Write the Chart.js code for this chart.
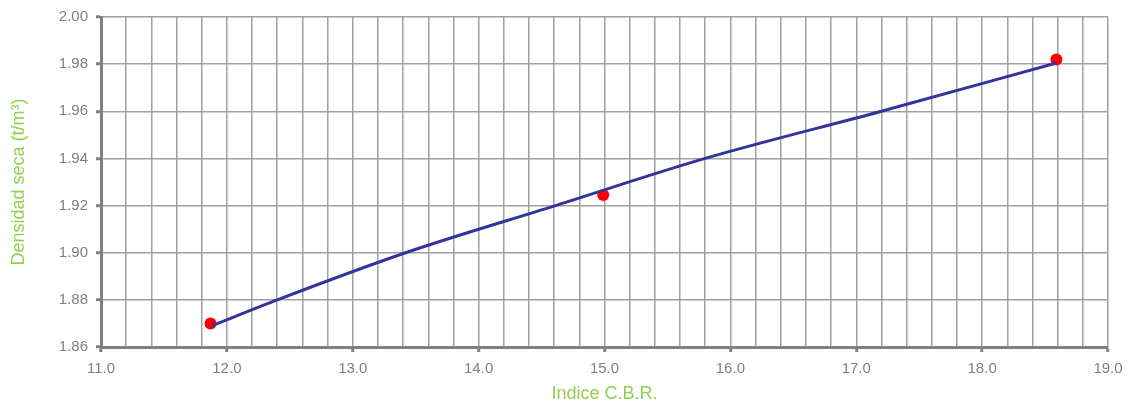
<!DOCTYPE html>
<html>
<head>
<meta charset="utf-8">
<script src="https://cdn.jsdelivr.net/npm/chart.js@4.4.0/dist/chart.umd.min.js"></script>
<style>
html,body{margin:0;padding:0;background:#fff;}
#wrap{width:1128px;height:405px;}
</style>
</head>
<body>
<div id="wrap"><canvas id="c" width="1128" height="405"></canvas></div>
<script>
// Fitted curve
const curveX = [11.88, 12.40, 13.42, 14.61, 15.80, 17.20, 18.59];
const curveY = [1.869, 1.880, 1.900, 1.920, 1.940, 1.960, 1.9805];
// Measured points
const pointX = [11.87, 14.99, 18.59];
const pointY = [1.870, 1.9245, 1.982];
// Axis settings
const xMin = 11.0, xMax = 19.0, xGridStep = 0.2;
const yMin = 1.86, yMax = 2.00, yStep = 0.02;
const xTitle = 'Indice C.B.R.';
const yTitle = 'Densidad seca (t/m³)';

const toXY = (xs, ys) => xs.map((x, i) => ({x: x, y: ys[i]}));
const isMajor = v => Math.abs(v - Math.round(v)) < 1e-6;
const font = 'Liberation Sans, Arial, sans-serif';

new Chart(document.getElementById('c'), {
  type: 'scatter',
  data: {
    datasets: [
      {
        data: toXY(curveX, curveY),
        showLine: true,
        borderColor: '#333399',
        borderWidth: 3,
        pointRadius: 0,
        cubicInterpolationMode: 'monotone',
        order: 0
      },
      {
        data: toXY(pointX, pointY),
        showLine: false,
        backgroundColor: '#FF0000',
        borderColor: '#FF0000',
        pointRadius: 6,
        pointBorderWidth: 0,
        order: 1
      }
    ]
  },
  options: {
    responsive: false,
    animation: false,
    layout: {padding: {top: 16, right: 20, left: 0, bottom: 0}},
    plugins: {legend: {display: false}, tooltip: {enabled: false}},
    scales: {
      x: {
        type: 'linear',
        min: xMin, max: xMax,
        afterFit: s => { s.height = 58; s.paddingRight = 0; s.paddingLeft = 0; },
        ticks: {
          stepSize: xGridStep,
          autoSkip: false,
          maxRotation: 0,
          padding: 8,
          color: '#808080',
          font: {family: font, size: 15},
          callback: v => isMajor(v) ? v.toFixed(1) : ''
        },
        grid: {
          color: '#A0A0A0',
          lineWidth: 1.5,
          tickLength: 5,
          tickColor: ctx => (ctx.tick && isMajor(ctx.tick.value)) ? '#808080' : 'rgba(0,0,0,0)',
          tickWidth: 3
        },
        border: {color: '#808080', width: 3},
        title: {
          display: true, text: xTitle, color: '#92D050',
          font: {family: font, size: 18}, padding: {top: 0, bottom: 0}
        }
      },
      y: {
        type: 'linear',
        min: yMin, max: yMax,
        afterFit: s => { s.width = 101; },
        ticks: {
          stepSize: yStep,
          padding: 8,
          color: '#808080',
          font: {family: font, size: 15},
          callback: v => v.toFixed(2)
        },
        grid: {
          color: '#A0A0A0',
          lineWidth: 1.5,
          tickLength: 5,
          tickColor: '#808080',
          tickWidth: 3
        },
        border: {color: '#808080', width: 3},
        title: {
          display: true, text: yTitle, color: '#92D050',
          font: {family: font, size: 18}, padding: {top: 8, bottom: 0}
        }
      }
    }
  }
});
</script>
</body>
</html>
